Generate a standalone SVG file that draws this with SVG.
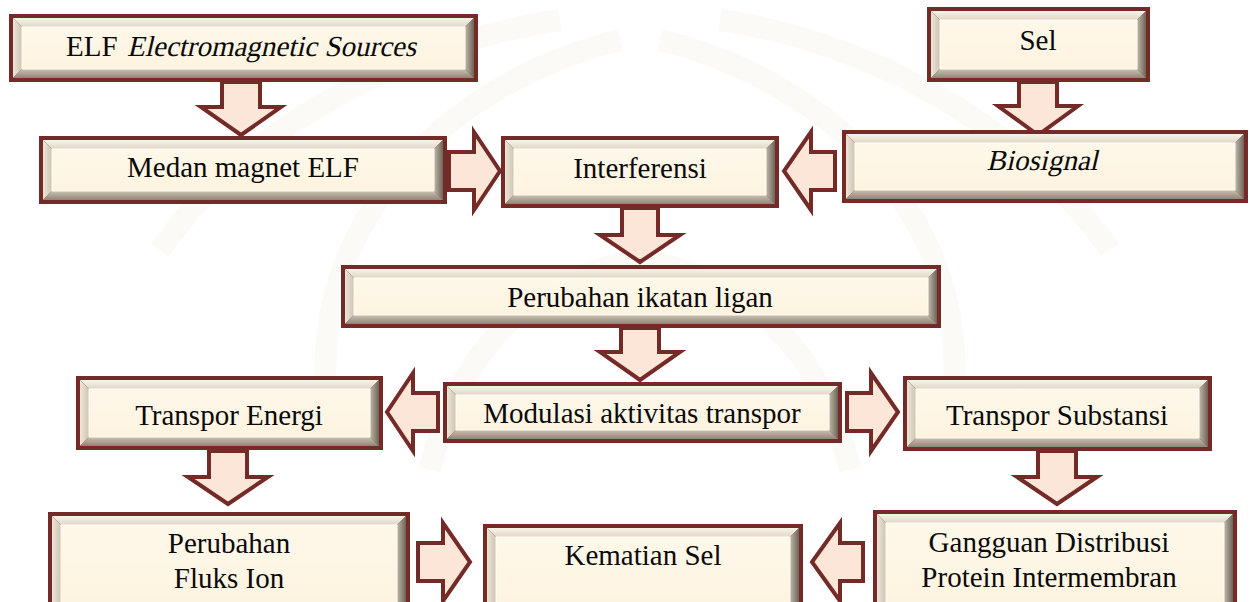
<svg xmlns="http://www.w3.org/2000/svg" width="1253" height="602" viewBox="0 0 1253 602">
<defs>
<linearGradient id="gT" x1="0" y1="0" x2="0" y2="1"><stop offset="0" stop-color="#F8F3EA"/><stop offset="1" stop-color="#E0D6C4"/></linearGradient>
<linearGradient id="gL" x1="0" y1="0" x2="1" y2="0"><stop offset="0" stop-color="#EDE6D8"/><stop offset="1" stop-color="#CEC3B0"/></linearGradient>
<linearGradient id="gR" x1="0" y1="0" x2="1" y2="0"><stop offset="0" stop-color="#C2B8A7"/><stop offset="1" stop-color="#6C645A"/></linearGradient>
<linearGradient id="gB" x1="0" y1="0" x2="0" y2="1"><stop offset="0" stop-color="#CBC1B0"/><stop offset="1" stop-color="#8E8679"/></linearGradient>
<linearGradient id="gF" x1="0" y1="0" x2="0" y2="1"><stop offset="0" stop-color="#FEF8EA"/><stop offset="1" stop-color="#FDF3DF"/></linearGradient>
</defs>
<style>
.bd{fill:#742A27}
.bt{fill:url(#gT)}
.bl{fill:url(#gL)}
.br{fill:url(#gR)}
.bb{fill:url(#gB)}
.face{fill:url(#gF);stroke:#FFFDF7;stroke-width:1}
.tx{font-family:"Liberation Serif","Times New Roman",serif;font-size:29px;fill:#0A0A0A;text-anchor:middle}
.st{text-anchor:start}
.ar{fill:#FCE6D8;stroke:#742A27;stroke-width:4;stroke-linejoin:miter}
.wm{fill:none;stroke:#F8F5EE;stroke-width:22;opacity:0.45}
</style>
<rect x="0" y="0" width="1253" height="602" fill="#FFFFFF"/>
<g id="watermark">
<path class="wm" d="M330 420 C 300 250, 420 90, 620 40"/>
<path class="wm" d="M950 420 C 980 250, 860 90, 660 40"/>
<path class="wm" d="M430 470 C 460 330, 560 270, 640 260 C 720 270, 820 330, 850 470"/>
<path class="wm" d="M160 250 C 250 120, 420 40, 560 20"/>
<path class="wm" d="M1110 250 C 1020 120, 860 40, 720 20"/>
</g>

<g id="connectors">
<path class="ar" d="M222 82 L260 82 L260 107 L281 107 L241 135 L201 107 L222 107 Z"/>
<path class="ar" d="M1019 82 L1057 82 L1057 106 L1078 106 L1038 135 L998 106 L1019 106 Z"/>
<path class="ar" d="M449 152 L474 152 L474 132 L500 171 L474 210 L474 190 L449 190 Z"/>
<path class="ar" d="M835 152 L811 152 L811 132 L784 171 L811 210 L811 190 L835 190 Z"/>
<path class="ar" d="M622 208 L658 208 L658 235 L680 235 L640 262 L600 235 L622 235 Z"/>
<path class="ar" d="M621 328 L659 328 L659 352 L680 352 L640 380 L600 352 L621 352 Z"/>
<path class="ar" d="M438 393 L413 393 L413 373 L387 412 L413 451 L413 431 L438 431 Z"/>
<path class="ar" d="M847 393 L871 393 L871 373 L898 412 L871 451 L871 431 L847 431 Z"/>
<path class="ar" d="M209 451 L247 451 L247 477 L268 477 L228 504 L188 477 L209 477 Z"/>
<path class="ar" d="M1038 451 L1076 451 L1076 477 L1097 477 L1057 504 L1017 477 L1038 477 Z"/>
<path class="ar" d="M418 543 L443 543 L443 523 L470 562 L443 601 L443 581 L418 581 Z"/>
<path class="ar" d="M863 543 L840 543 L840 523 L812 562 L840 601 L840 581 L863 581 Z"/>
</g>

<g id="n-elf">
<rect class="bd" x="9" y="14" width="469" height="68"/>
<polygon class="bt" points="13,18 474,18 465,27 22,27"/>
<polygon class="bl" points="13,18 22,27 22,69 13,78"/>
<polygon class="br" points="474,18 474,78 465,69 465,27"/>
<polygon class="bb" points="13,78 22,69 465,69 474,78"/>
<rect class="face" x="22" y="27" width="443" height="42"/>
<text class="tx st" x="66" y="56">ELF</text>
<text class="tx st" transform="translate(127,56) skewX(-13)" x="0" y="0">Electromagnetic Sources</text>
</g>

<g id="n-sel">
<rect class="bd" x="927" y="7" width="223" height="75"/>
<polygon class="bt" points="931,11 1146,11 1137,20 940,20"/>
<polygon class="bl" points="931,11 940,20 940,69 931,78"/>
<polygon class="br" points="1146,11 1146,78 1137,69 1137,20"/>
<polygon class="bb" points="931,78 940,69 1137,69 1146,78"/>
<rect class="face" x="940" y="20" width="197" height="49"/>
<text class="tx" x="1038" y="50">Sel</text>
</g>

<g id="n-medan">
<rect class="bd" x="39" y="136" width="408" height="68"/>
<polygon class="bt" points="43,140 443,140 434,149 52,149"/>
<polygon class="bl" points="43,140 52,149 52,191 43,200"/>
<polygon class="br" points="443,140 443,200 434,191 434,149"/>
<polygon class="bb" points="43,200 52,191 434,191 443,200"/>
<rect class="face" x="52" y="149" width="382" height="42"/>
<text class="tx" x="243" y="177">Medan magnet ELF</text>
</g>

<g id="n-interferensi">
<rect class="bd" x="501" y="136" width="278" height="72"/>
<polygon class="bt" points="505,140 775,140 766,149 514,149"/>
<polygon class="bl" points="505,140 514,149 514,195 505,204"/>
<polygon class="br" points="775,140 775,204 766,195 766,149"/>
<polygon class="bb" points="505,204 514,195 766,195 775,204"/>
<rect class="face" x="514" y="149" width="252" height="46"/>
<text class="tx" x="640" y="178">Interferensi</text>
</g>

<g id="n-biosignal">
<rect class="bd" x="842" y="130" width="406" height="73"/>
<polygon class="bt" points="846,134 1244,134 1235,143 855,143"/>
<polygon class="bl" points="846,134 855,143 855,190 846,199"/>
<polygon class="br" points="1244,134 1244,199 1235,190 1235,143"/>
<polygon class="bb" points="846,199 855,190 1235,190 1244,199"/>
<rect class="face" x="855" y="143" width="380" height="47"/>
<text class="tx" transform="translate(1042,170) skewX(-13)" x="0" y="0">Biosignal</text>
</g>

<g id="n-ligan">
<rect class="bd" x="341" y="265" width="600" height="63"/>
<polygon class="bt" points="345,269 937,269 928,278 354,278"/>
<polygon class="bl" points="345,269 354,278 354,315 345,324"/>
<polygon class="br" points="937,269 937,324 928,315 928,278"/>
<polygon class="bb" points="345,324 354,315 928,315 937,324"/>
<rect class="face" x="354" y="278" width="574" height="37"/>
<text class="tx" x="640" y="307">Perubahan ikatan ligan</text>
</g>

<g id="n-modulasi">
<rect class="bd" x="443" y="382" width="399" height="61"/>
<polygon class="bt" points="447,386 838,386 829,395 456,395"/>
<polygon class="bl" points="447,386 456,395 456,430 447,439"/>
<polygon class="br" points="838,386 838,439 829,430 829,395"/>
<polygon class="bb" points="447,439 456,430 829,430 838,439"/>
<rect class="face" x="456" y="395" width="373" height="35"/>
<text class="tx" x="642" y="423">Modulasi aktivitas transpor</text>
</g>

<g id="n-energi">
<rect class="bd" x="76" y="376" width="307" height="74"/>
<polygon class="bt" points="80,380 379,380 370,389 89,389"/>
<polygon class="bl" points="80,380 89,389 89,437 80,446"/>
<polygon class="br" points="379,380 379,446 370,437 370,389"/>
<polygon class="bb" points="80,446 89,437 370,437 379,446"/>
<rect class="face" x="89" y="389" width="281" height="48"/>
<text class="tx" x="229" y="425">Transpor Energi</text>
</g>

<g id="n-substansi">
<rect class="bd" x="903" y="376" width="309" height="75"/>
<polygon class="bt" points="907,380 1208,380 1199,389 916,389"/>
<polygon class="bl" points="907,380 916,389 916,438 907,447"/>
<polygon class="br" points="1208,380 1208,447 1199,438 1199,389"/>
<polygon class="bb" points="907,447 916,438 1199,438 1208,447"/>
<rect class="face" x="916" y="389" width="283" height="49"/>
<text class="tx" x="1057" y="425">Transpor Substansi</text>
</g>

<g id="n-fluks">
<rect class="bd" x="48" y="512" width="362" height="108"/>
<polygon class="bt" points="52,516 406,516 397,525 61,525"/>
<polygon class="bl" points="52,516 61,525 61,607 52,616"/>
<polygon class="br" points="406,516 406,616 397,607 397,525"/>
<rect class="face" x="61" y="525" width="336" height="82"/>
<text class="tx" x="229" y="553">Perubahan</text>
<text class="tx" x="229" y="588">Fluks Ion</text>
</g>

<g id="n-kematian">
<rect class="bd" x="483" y="524" width="320" height="96"/>
<polygon class="bt" points="487,528 799,528 790,537 496,537"/>
<polygon class="bl" points="487,528 496,537 496,607 487,616"/>
<polygon class="br" points="799,528 799,616 790,607 790,537"/>
<rect class="face" x="496" y="537" width="294" height="70"/>
<text class="tx" x="643" y="565">Kematian Sel</text>
</g>

<g id="n-gangguan">
<rect class="bd" x="873" y="510" width="364" height="110"/>
<polygon class="bt" points="877,514 1233,514 1224,523 886,523"/>
<polygon class="bl" points="877,514 886,523 886,607 877,616"/>
<polygon class="br" points="1233,514 1233,616 1224,607 1224,523"/>
<rect class="face" x="886" y="523" width="338" height="84"/>
<text class="tx" x="1049" y="552">Gangguan Distribusi</text>
<text class="tx" x="1049" y="587">Protein Intermembran</text>
</g>
</svg>
